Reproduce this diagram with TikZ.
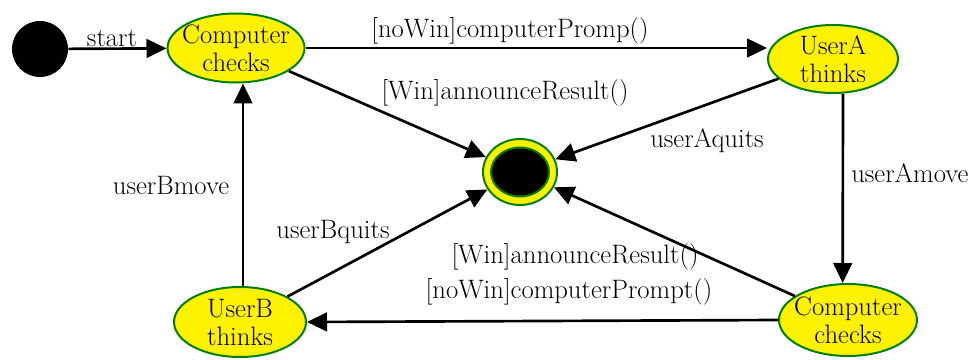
\documentclass[tikz,border=0pt]{standalone}
\usetikzlibrary{shapes.geometric,arrows.meta}
\definecolor{stfill}{RGB}{255,242,0}
\definecolor{stdraw}{RGB}{0,128,0}
\begin{document}
\begin{tikzpicture}[x=0.75pt,y=-0.75pt,
  state/.style={ellipse,draw=stdraw,fill=stfill,line width=1.5pt,inner sep=-6pt,
    align=center,font=\fontsize{20}{21}\selectfont},
  lab/.style={anchor=base,inner sep=0pt,font=\fontsize{20}{24}\selectfont},
  arr/.style={line width=2pt,-{Triangle[length=15pt,width=14pt]}}]
\useasboundingbox (0,0) rectangle (972,360);
% states
\node[circle,fill=black,minimum size=56*0.75pt,inner sep=0pt] (init) at (40,49) {};
\node[state,minimum width=137*0.75pt,minimum height=69*0.75pt] (ct) at (236,48) {Computer\\checks};
\node[state,minimum width=130*0.75pt,minimum height=68*0.75pt] (ua) at (833,59) {UserA\\thinks};
\node[state,inner sep=0pt,minimum width=74*0.75pt,minimum height=66*0.75pt] (fin) at (520,172) {};
\node[ellipse,draw=stdraw,fill=black,line width=1.5pt,minimum width=58*0.75pt,minimum height=49*0.75pt,inner sep=0pt] (finin) at (fin) {};
\node[state,minimum width=138*0.75pt,minimum height=72*0.75pt] (cb) at (848,320) {Computer\\checks};
\node[state,minimum width=132*0.75pt,minimum height=70*0.75pt] (ub) at (240,322) {UserB\\thinks};
% transitions
\draw[arr] (init) -- (ct);
\draw[arr] (ct.east) -- (ua.west |- ct.east);
\draw[arr] (ct) -- (fin);
\draw[arr] (ua) -- (fin);
\draw[arr] ([xshift=7.5pt]ua.south) -- ([xshift=-4pt]cb.north);
\draw[arr] (cb) -- (fin);
\draw[arr] (cb.west) -- (ub.east);
\draw[arr] (ub) -- (fin);
\draw[arr] ([xshift=2.25pt]ub.north) -- ([xshift=2.25pt]ub.north |- ct.south);
% labels
\node[lab] (l1) at (112,47) {start};
\node[lab] (l2) at (510,38) {[noWin]computerPromp()};
\node[lab] (l3) at (505,100) {[Win]announceResult()};
\node[lab] (l4) at (707,147) {userAquits};
\node[lab,anchor=base west] (l5) at (851,182) {userAmove};
\node[lab] (l6) at (171,195) {userBmove};
\node[lab] (l7) at (333,238) {userBquits};
\node[lab] (l8) at (575,263) {[Win]announceResult()};
\node[lab] (l9) at (569,298) {[noWin]computerPrompt()};
\end{tikzpicture}
\end{document}
